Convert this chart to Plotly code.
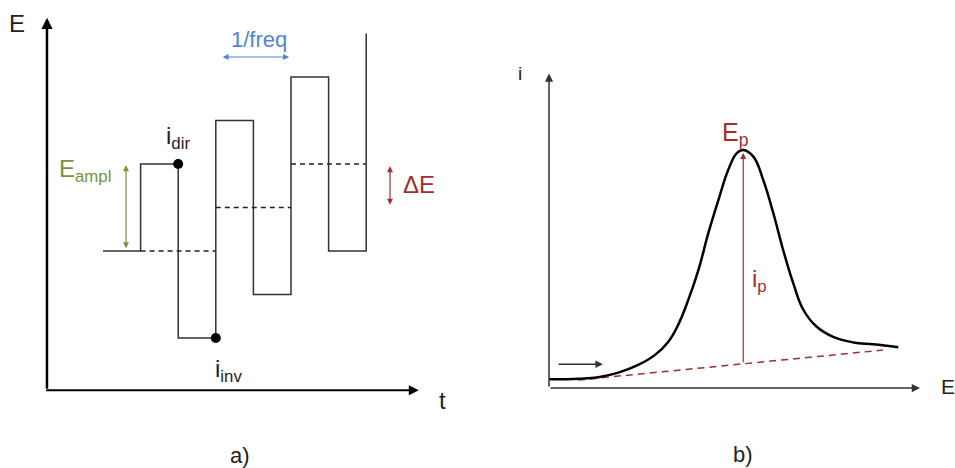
import plotly.graph_objects as go

# ---------------- Panel a) : square-wave voltammetry waveform ----------------
t_wave = [0, 1, 1, 2, 2, 3, 3, 4, 4, 5, 5, 6, 6, 7, 7]
E_wave = [0, 0, 2, 2, -2, -2, 3, 3, -1, -1, 4, 4, 0, 0, 5]
t_stair = [[1, 3], [3, 5], [5, 7]]
E_stair = [0, 1, 2]
t_dots = [2, 3]
E_dots = [2, -2]
ampl_levels = [0, 2]
step_levels = [1, 2]
period_t = [3, 5]

# ---------------- Panel b) : voltammogram ----------------
E_curve = [0.000, 0.008, 0.084, 0.141, 0.198, 0.255, 0.303, 0.341, 0.369, 0.398, 0.427,
           0.455, 0.484, 0.512, 0.536, 0.555, 0.584, 0.612, 0.641, 0.669, 0.698, 0.727,
           0.765, 0.812, 0.869, 0.927, 0.998]
i_curve = [0.036, 0.036, 0.039, 0.045, 0.064, 0.096, 0.138, 0.193, 0.263, 0.367, 0.492,
           0.644, 0.783, 0.908, 0.978, 0.992, 0.964, 0.867, 0.728, 0.575, 0.436, 0.325,
           0.255, 0.213, 0.190, 0.182, 0.170]
E_base = [0.083, 0.954]
i_base = [0.033, 0.158]
E_peak = 0.555
i_peak = 0.979

FONT = "Liberation Sans, Arial, sans-serif"
RED = "#a0302e"
GREEN = "#77933c"
BLUE = "#4f86d6"

fig = go.Figure()

# panel a traces
fig.add_trace(go.Scatter(x=t_wave, y=E_wave, mode="lines",
                         line=dict(color="#333333", width=1.5),
                         xaxis="x", yaxis="y", hoverinfo="skip"))
for tt, ee in zip(t_stair, E_stair):
    fig.add_trace(go.Scatter(x=tt, y=[ee, ee], mode="lines",
                             line=dict(color="#222222", width=1.3, dash="5px,4px"),
                             xaxis="x", yaxis="y", hoverinfo="skip"))
fig.add_trace(go.Scatter(x=t_dots, y=E_dots, mode="markers",
                         marker=dict(color="black", size=10),
                         xaxis="x", yaxis="y", hoverinfo="skip"))

# panel b traces
fig.add_trace(go.Scatter(x=E_base, y=i_base, mode="lines",
                         line=dict(color=RED, width=1.5, dash="7px,5px"),
                         xaxis="x2", yaxis="y2", hoverinfo="skip"))
fig.add_trace(go.Scatter(x=E_curve, y=i_curve, mode="lines", line_shape="spline",
                         line=dict(color="black", width=2.5, smoothing=1.2),
                         xaxis="x2", yaxis="y2", hoverinfo="skip"))

ann = []

def arrow(x, y, ax, ay, xr, yr, color, width, head=2, size=1.0, both=False):
    ann.append(dict(x=x, y=y, ax=ax, ay=ay, xref=xr, yref=yr, axref=xr, ayref=yr,
                    showarrow=True, text="", arrowcolor=color, arrowwidth=width,
                    arrowhead=head, startarrowhead=head, arrowsize=size,
                    startarrowsize=size, standoff=0, startstandoff=0,
                    arrowside="end+start" if both else "end"))

def label(x, y, text, xr, yr, color="#222222", size=24):
    ann.append(dict(x=x, y=y, xref=xr, yref=yr, text=text, showarrow=False,
                    font=dict(family=FONT, size=size, color=color),
                    xanchor="center", yanchor="middle"))

# panel a axes
arrow(-1.49, 5.36, -1.49, -3.2, "x", "y", "black", 2.5, head=2, size=0.9)
arrow(8.4, -3.2, -1.55, -3.2, "x", "y", "black", 2.0, head=2, size=1.0)
# panel a dimension arrows
arrow(0.612, ampl_levels[1] - 0.03, 0.612, ampl_levels[0] + 0.03, "x", "y", GREEN, 1.2, head=2, size=1.0, both=True)
arrow(7.633, step_levels[1] - 0.05, 7.633, step_levels[0] + 0.03, "x", "y", RED, 1.2, head=2, size=1.0, both=True)
arrow(period_t[1] - 0.05, 4.46, period_t[0] + 0.14, 4.46, "x", "y", BLUE, 1.2, head=2, size=1.0, both=True)

# panel a labels
label(-2.29, 5.24, "E", "x", "y", size=24)
label(9.04, -3.43, "t", "x", "y", size=24)
label(2.0, 2.62, "i<sub>dir</sub>", "x", "y", size=24)
label(3.35, -2.74, "i<sub>inv</sub>", "x", "y", size=24)
label(-0.48, 1.84, "E<sub>ampl</sub>", "x", "y", color=GREEN, size=24)
label(4.15, 4.87, "1/freq", "x", "y", color=BLUE, size=22)
label(8.40, 1.52, "ΔE", "x", "y", color=RED, size=24)
label(3.64, -4.69, "a)", "x", "y", size=22)

# panel b axes
arrow(0.0, 1.31, 0.0, 0.0, "x2", "y2", "#333333", 1.5, head=2, size=1.1)
arrow(1.06, 0.0, 0.0, 0.0, "x2", "y2", "#333333", 1.5, head=2, size=1.1)
# peak arrow and scan direction arrow
arrow(E_peak, i_peak, E_peak, i_base[0] + (E_peak - E_base[0]) / (E_base[1] - E_base[0]) * (i_base[1] - i_base[0]),
      "x2", "y2", RED, 1.2, head=2, size=1.0)
arrow(0.154, 0.099, 0.023, 0.099, "x2", "y2", "#333333", 1.5, head=2, size=1.0)

# panel b labels
label(-0.083, 1.31, "i", "x2", "y2", size=19)
label(1.14, 0.008, "E", "x2", "y2", size=21)
label(0.531, 1.06, "E<sub>p</sub>", "x2", "y2", color=RED, size=25)
label(0.60, 0.45, "i<sub>p</sub>", "x2", "y2", color=RED, size=24)
label(0.554, -0.279, "b)", "x2", "y2", size=22)

ax_common = dict(visible=False, showgrid=False, zeroline=False, fixedrange=True)
fig.update_layout(
    width=955, height=468, autosize=False,
    margin=dict(l=0, r=0, t=0, b=0, pad=0),
    paper_bgcolor="white", plot_bgcolor="white",
    showlegend=False,
    xaxis=dict(domain=[0, 1], range=[-103 / 37.6, 852 / 37.6], anchor="y", **ax_common),
    yaxis=dict(domain=[0, 1], range=[-217 / 43.5, 251 / 43.5], anchor="x", **ax_common),
    xaxis2=dict(domain=[0, 1], range=[-549 / 350, 406 / 350], anchor="y2", overlaying="x", **ax_common),
    yaxis2=dict(domain=[0, 1], range=[-80 / 240, 388 / 240], anchor="x2", overlaying="y", **ax_common),
    annotations=ann,
    font=dict(family=FONT),
)

fig.write_html("out.html", config={"displayModeBar": False, "staticPlot": True},
               post_script="document.body.style.margin='0';document.body.style.overflow='hidden';")
